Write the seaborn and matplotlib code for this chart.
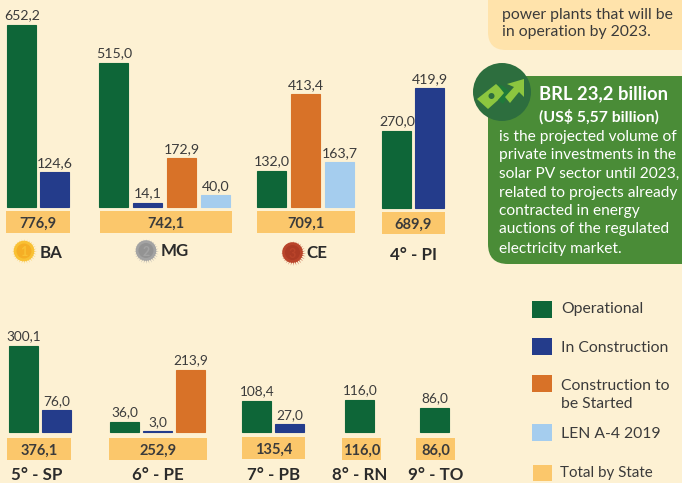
import numpy as np
import pandas as pd
import matplotlib
matplotlib.use("Agg")
import matplotlib.pyplot as plt
from matplotlib.patches import FancyBboxPatch, Polygon, Rectangle, Circle
import seaborn as sns

states = ["BA", "MG", "CE", "PI", "SP", "PE", "PB", "RN", "TO"]
operational = [652.2, 515.0, 132.0, 270.0, 300.1, 36.0, 108.4, 116.0, 86.0]
in_construction = [124.6, 14.1, None, 419.9, 76.0, 3.0, 27.0, None, None]
to_be_started = [None, 172.9, 413.4, None, None, 213.9, None, None, None]
len_a4 = [None, 40.0, 163.7, None, None, None, None, None, None]
totals = ["776,9", "742,1", "709,1", "689,9", "376,1", "252,9", "135,4", "116,0", "86,0"]
rank_labels = ["BA", "MG", "CE", "4° - PI", "5° - SP", "6° - PE", "7° - PB", "8° - RN", "9° - TO"]
series_names = ["Operational", "In Construction", "Construction to\nbe Started", "LEN A-4 2019"]
total_name = "Total by State"

BG = "#FDF1D3"
TXT = "#3B3B3B"
palette = dict(zip(series_names, ["#0E6638", "#243C8B", "#D87228", "#A5CDEE"]))
TOTAL_C = "#FBC76B"

W, H = 682, 483
sns.set_theme(style="white")
plt.rcParams["font.family"] = ["Lato", "DejaVu Sans"]

records = []
for i, s in enumerate(states):
    for name, vals in zip(series_names, [operational, in_construction, to_be_started, len_a4]):
        if vals[i] is not None:
            records.append({"State": s, "Status": name, "MW": vals[i]})
df = pd.DataFrame(records)

# layout, in pixels of the output image
first_bar = [7.4, 99.4, 257.4, 382.4, 9.4, 110.4, 242.4, 345.4, 420.4]
pitch = [33, 34, 34, 33, 33, 33, 33, 33, 33]
baseline = [207, 206.5, 207, 208, 432, 432, 432, 432, 432]
px_per_unit = [.279, .2796, .273, .285, .2866, .29, .286, .276, .279]
box_x = [(6, 70), (100, 232), (257, 355), (382, 445), (7, 71), (109, 207), (242, 305), (342, 381), (416, 455)]
box_y = [(211, 233), (211, 233), (211, 233), (212, 234), (438, 460), (438, 460), (437, 459), (438, 460), (438, 460)]
label_xy = [(51.5, 251), (175, 249), (316.5, 251), (414, 253), (37, 474), (158, 474), (274, 474), (360, 474), (436, 474)]
value_size = [10.2, 10.2, 10.2, 10.2, 9.8, 9.8, 9.8, 9.8, 9.8]
BAR_W = 29
PANEL_H = 200

fig = plt.figure(figsize=(W / 100, H / 100), dpi=100, facecolor=BG)
ov = fig.add_axes([0, 0, 1, 1], zorder=0)
ov.set_xlim(0, W)
ov.set_ylim(H, 0)
ov.axis("off")

# state panels
for i, s in enumerate(states):
    sub = df[df["State"] == s]
    order = list(sub["Status"])
    n = len(order)
    gap = pitch[i] - BAR_W
    left = first_bar[i] - gap / 2
    ax = fig.add_axes([left / W, 1 - baseline[i] / H, n * pitch[i] / W, PANEL_H / H], zorder=2)
    sns.barplot(data=sub, x="Status", y="MW", hue="Status", order=order, hue_order=order,
                palette=palette, saturation=1, width=BAR_W / pitch[i], legend=False, ax=ax)
    ax.set_xlim(-0.5, n - 0.5)
    ax.set_ylim(0, PANEL_H / px_per_unit[i])
    ax.axis("off")
    ax.patch.set_alpha(0)
    for p in ax.patches:
        p.set_edgecolor(p.get_facecolor())
        p.set_linewidth(0.8)
        p.set_clip_on(False)
    for c in ax.containers:
        ax.bar_label(c, labels=[f"{v:.1f}".replace(".", ",") for v in c.datavalues],
                     padding=2.5, fontsize=value_size[i], color=TXT, clip_on=False)
    x0, x1 = box_x[i]
    y0, y1 = box_y[i]
    ov.add_patch(Rectangle((x0, y0), x1 - x0, y1 - y0, fc=TOTAL_C, ec="none"))
    ov.text((x0 + x1) / 2, (y0 + y1) / 2, totals[i], ha="center", va="center_baseline",
            fontsize=10.5, fontweight="bold", color=TXT)
    ov.text(*label_xy[i], rank_labels[i], ha="center", va="center_baseline",
            fontsize=12.2, fontweight="bold", color="#2B2B2B")

# medals
for (cx, cy, c1, c2, d) in [(24, 251, "#F9C134", "#F5AE25", "1"),
                            (146, 250.5, "#A3A3A3", "#939393", "2"),
                            (292.5, 252.5, "#B9442A", "#AC3B24", "3")]:
    ov.scatter([cx], [cy], s=320, marker=(28, 1, 0), c=c1, linewidths=0)
    ov.add_patch(Circle((cx, cy), 10.3, fc=c1, ec="none"))
    ov.add_patch(Circle((cx, cy), 7.5, fc=c2, ec="none"))
    ov.text(cx, cy, d, ha="center", va="center_baseline", fontsize=9, fontweight="bold", color=c1)

# upper callout
ov.add_patch(FancyBboxPatch((488, -60), 260, 110, boxstyle="round,pad=0,rounding_size=18",
                            fc="#FFE3AB", ec="none"))
for y, t in [(13, "power plants that will be"), (30.5, "in operation by 2023.")]:
    ov.text(502, y, t, ha="left", va="center_baseline", fontsize=11.3, color=TXT)

# green callout
ov.add_patch(FancyBboxPatch((488, 76), 260, 188, boxstyle="round,pad=0,rounding_size=20",
                            fc="#4A8C37", ec="none"))
ov.add_patch(Circle((502, 92), 29, fc="#2D6E3E", ec="none"))
ov.add_patch(Polygon([(477, 99), (496, 84), (506, 93), (488, 109)], fc="#8CC63F", ec="none"))
ov.add_patch(Circle((491.5, 96), 3, fc="#2D6E3E", ec="none"))
ov.add_patch(Polygon([(497, 84), (503, 86), (511, 92), (503, 104), (498, 100), (504, 93)], fc="#1F7A3A", ec="none"))
ov.add_patch(Polygon([(507, 84), (524, 79), (524, 97), (519, 92), (510, 103), (505, 97), (514, 87)],
                     fc="#8CC63F", ec="none"))
ov.text(539, 92, "BRL 23,2 billion", ha="left", va="center_baseline", fontsize=13.2,
        fontweight="bold", color="white")
ov.text(539, 115, "(US$ 5,57 billion)", ha="left", va="center_baseline", fontsize=11.3,
        fontweight="bold", color="white")
body = ["is the projected volume of", "private investments in the", "solar PV sector until 2023,",
        "related to projects already", "contracted in energy", "auctions of the regulated",
        "electricity market."]
for y, t in zip([135, 153.5, 172, 191, 210, 228, 247], body):
    ov.text(499, y, t, ha="left", va="center_baseline", fontsize=11.2, color="white")

# legend
legend_y = [301, 338, 375, 424]
legend_text_y = [(308,), (346,), (384, 402), (433,)]
for name, y, tys in zip(series_names, legend_y, legend_text_y):
    ov.add_patch(Rectangle((532, y), 19.5, 17, fc=palette[name], ec="none"))
    for line, ty in zip(name.split("\n"), tys):
        ov.text(561, ty, line, ha="left", va="center_baseline", fontsize=11.3, color=TXT)
ov.add_patch(Rectangle((533, 465), 18.5, 16, fc=TOTAL_C, ec="none"))
ov.text(560.5, 472, total_name, ha="left", va="center_baseline", fontsize=10.9, color=TXT)

fig.savefig("out.png", dpi=100, facecolor=BG)
